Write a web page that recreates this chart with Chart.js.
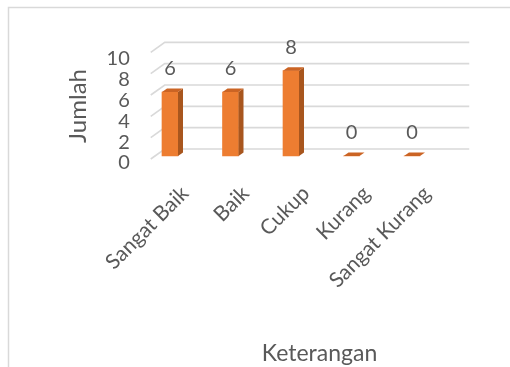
<!DOCTYPE html>
<html><head><meta charset="utf-8">
<script src="https://cdn.jsdelivr.net/npm/chart.js@4/dist/chart.umd.min.js"></script>
<style>html,body{margin:0;padding:0;background:#fff;} canvas{display:block;}</style>
</head><body>
<canvas id="c" width="510" height="367"></canvas>
<script>
const categories = ['Sangat Baik', 'Baik', 'Cukup', 'Kurang', 'Sangat Kurang'];
const values = [6, 6, 8, 0, 0];
const yTickValues = [0, 2, 4, 6, 8, 10];
const xTitle = 'Keterangan';
const yTitle = 'Jumlah';

const FONT = 'Lato';
const TEXT = '#595959';

const depthPlugin = {
  id: 'depth3d',
  beforeDraw(chart) {
    const ctx = chart.ctx;
    ctx.save();
    ctx.fillStyle = '#ffffff';
    ctx.fillRect(0, 0, chart.width, chart.height);
    ctx.strokeStyle = '#d9d9d9';
    ctx.lineWidth = 1.5;
    ctx.strokeRect(8.5, 7.5, chart.width, chart.height);
    ctx.restore();
  },
  beforeDatasetsDraw(chart) {
    const ctx = chart.ctx;
    const x = chart.scales.x, y = chart.scales.y;
    const frontL = x.getPixelForValue(-0.5) + 11;
    const backL = frontL + 14;
    const backR = x.getPixelForValue(categories.length - 0.5) + 27;
    ctx.save();
    ctx.strokeStyle = '#d9d9d9';
    ctx.lineWidth = 1.6;
    yTickValues.forEach(v => {
      const py = y.getPixelForValue(v);
      ctx.beginPath();
      ctx.moveTo(frontL, py + 3);
      ctx.lineTo(backL, py - 7);
      ctx.lineTo(backR, py - 7);
      ctx.stroke();
    });
    ctx.restore();
  },
  afterDatasetsDraw(chart) {
    const ctx = chart.ctx;
    const meta = chart.getDatasetMeta(0);
    const dx = 5, dy = -3.5;
    ctx.save();
    meta.data.forEach((bar, i) => {
      const p = bar.getProps(['x', 'y', 'base', 'width'], true);
      const l = p.x - p.width / 2, r = p.x + p.width / 2;
      if (p.base - p.y > 0.5) {
        ctx.fillStyle = '#A8561E';
        ctx.beginPath();
        ctx.moveTo(r, p.y); ctx.lineTo(r + dx, p.y + dy);
        ctx.lineTo(r + dx, p.base + dy); ctx.lineTo(r, p.base);
        ctx.closePath(); ctx.fill();
      }
      ctx.fillStyle = '#CB6424';
      ctx.beginPath();
      ctx.moveTo(l, p.y); ctx.lineTo(l + dx, p.y + dy);
      ctx.lineTo(r + dx, p.y + dy); ctx.lineTo(r, p.y);
      ctx.closePath(); ctx.fill();
      ctx.fillStyle = TEXT;
      ctx.font = '20px ' + FONT;
      ctx.textAlign = 'center';
      ctx.textBaseline = 'middle';
      ctx.fillText(String(values[i]), p.x, p.y - 23);
    });
    ctx.restore();
  }
};

new Chart(document.getElementById('c'), {
  type: 'bar',
  data: {
    datasets: [{
      data: categories.map((c, i) => ({ x: i, y: values[i] })),
      backgroundColor: '#ED7D31',
      borderWidth: 0,
      barThickness: 16,
      xAxisID: 'x',
      yAxisID: 'y'
    }]
  },
  options: {
    responsive: false,
    animation: false,
    devicePixelRatio: 1,
    layout: { padding: { left: 60, top: 42, right: 10.75, bottom: 0 } },
    plugins: { legend: { display: false }, tooltip: { enabled: false } },
    scales: {
      x: {
        type: 'linear', position: 'bottom', min: -0.5, max: 5.442, offset: false,
        grid: { display: false, drawTicks: false, offset: false }, border: { display: false },
        afterBuildTicks: s => { s.ticks = categories.map((c, i) => ({ value: i })); },
        afterFit: s => { s.height = 197; },
        ticks: {
          autoSkip: false, minRotation: 45, maxRotation: 45, padding: 11, labelOffset: 15,
          color: TEXT, font: { family: FONT, size: 21 },
          callback: v => categories[v]
        },
        title: { display: true, text: xTitle, color: TEXT, font: { family: FONT, size: 23 }, padding: { top: 0, bottom: 0 } }
      },
      y: { type: 'linear', display: false, min: -1.3125, max: 10.6875 },
      yt: {
        type: 'linear', position: 'left', min: -0.669, max: 11.557,
        grid: { display: false, drawTicks: false }, border: { display: false },
        afterBuildTicks: s => { s.ticks = yTickValues.map(v => ({ value: v })); },
        afterFit: s => { s.width = 79.75; },
        ticks: { autoSkip: false, padding: 10, color: TEXT, font: { family: FONT, size: 20 } },
        title: { display: true, text: yTitle, color: TEXT, font: { family: FONT, size: 24 }, padding: { top: 4, bottom: 0 } }
      }
    }
  },
  plugins: [depthPlugin]
});
</script>
</body></html>
